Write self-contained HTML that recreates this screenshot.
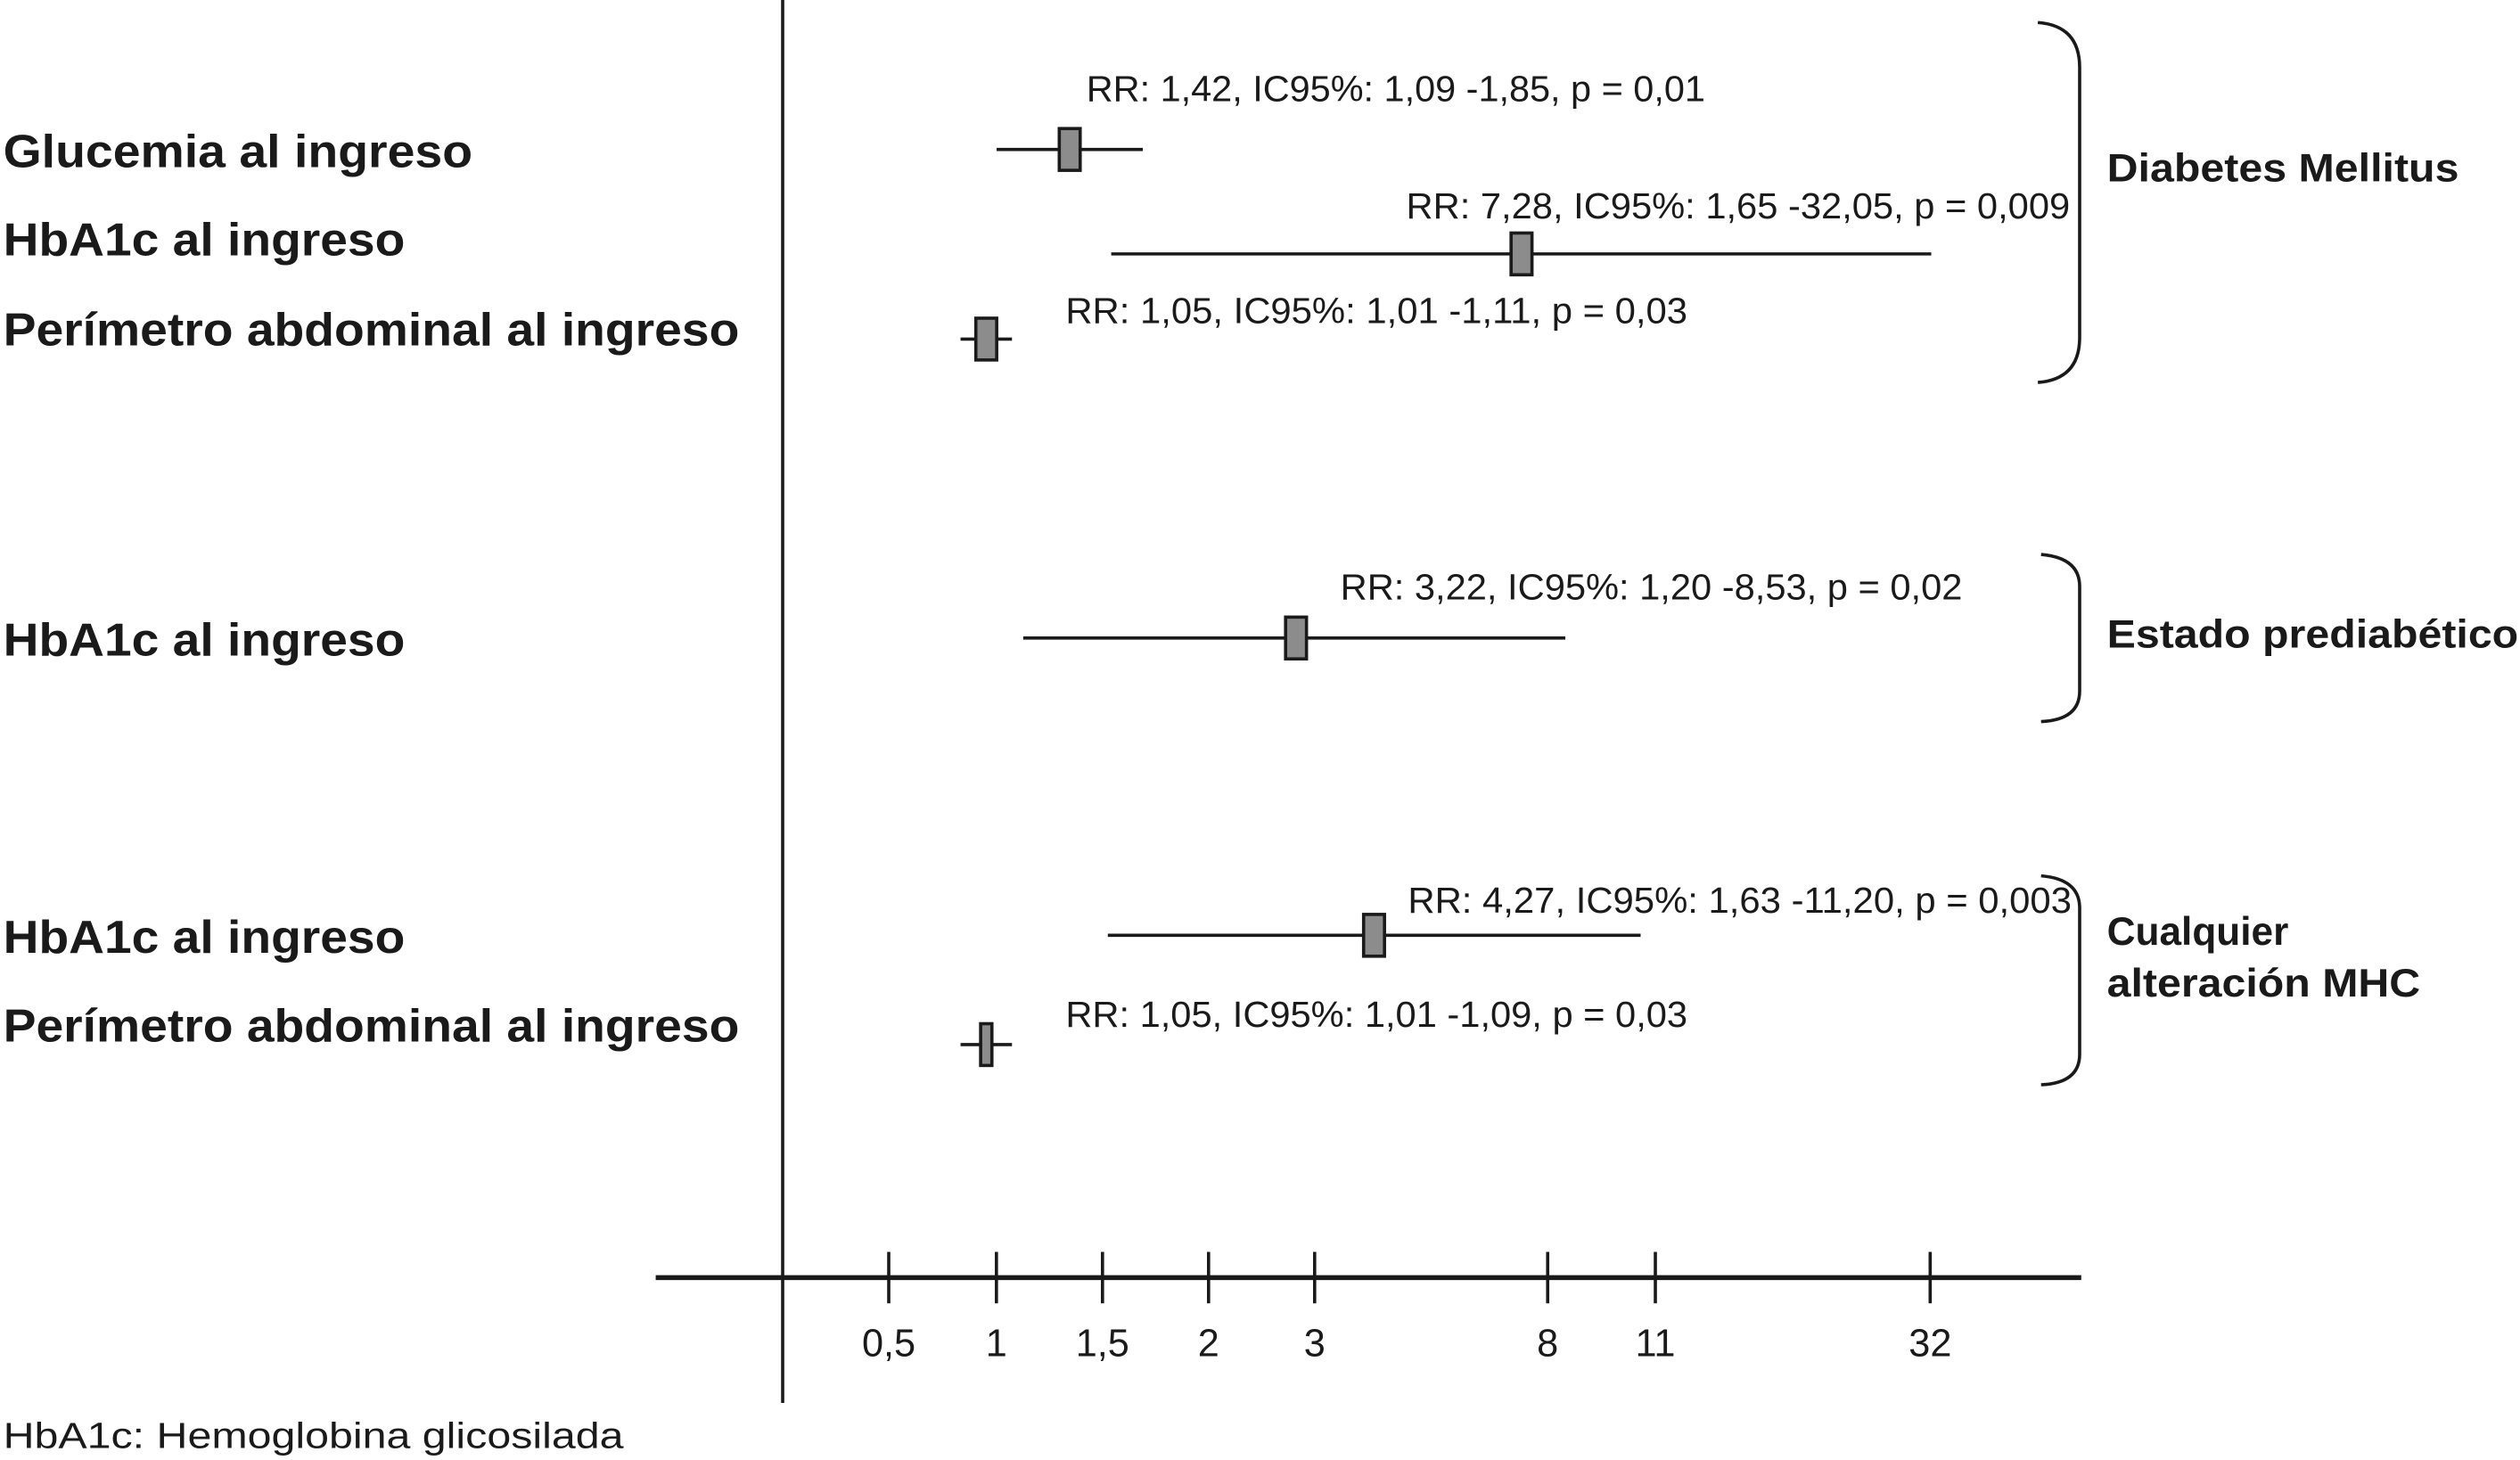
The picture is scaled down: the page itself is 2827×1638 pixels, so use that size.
<!DOCTYPE html>
<html><head><meta charset="utf-8"><style>
html,body{margin:0;padding:0;background:#fff;}
svg{display:block;}
text{font-family:"Liberation Sans",Arial,sans-serif;fill:#1a1a1a;}
.lab{font-weight:bold;font-size:29px;}
.ann{font-size:22.5px;}
.grp{font-weight:bold;font-size:24.5px;}
.tick{font-size:24px;}
</style></head><body>
<svg id="chart" width="2827" height="1638" viewBox="0 0 1568 908.5" preserveAspectRatio="none" xmlns="http://www.w3.org/2000/svg">
<g id="axes">
<line x1="487" y1="0" x2="487" y2="873" stroke="#1a1a1a" stroke-width="2"/>
<line x1="408" y1="795" x2="1295" y2="795" stroke="#1a1a1a" stroke-width="3"/>
</g>
<g id="ticks"></g>
<g id="rows"></g>
<g id="groups">
<path d="M1268,14 Q1294,16 1294,42 L1294,210 Q1294,236 1268,238" fill="none" stroke="#1a1a1a" stroke-width="2"/>
<path d="M1270,345 Q1294,347 1294,365 L1294,430 Q1294,448 1270,449" fill="none" stroke="#1a1a1a" stroke-width="2"/>
<path d="M1270,545 Q1294,547 1294,565 L1294,656 Q1294,674 1270,675" fill="none" stroke="#1a1a1a" stroke-width="2"/>
<text class="grp" x="1311" y="113" textLength="219" lengthAdjust="spacingAndGlyphs">Diabetes Mellitus</text>
<text class="grp" x="1311" y="403" textLength="256" lengthAdjust="spacingAndGlyphs">Estado prediabético</text>
<text class="grp" x="1311" y="588">Cualquier</text>
<text class="grp" x="1311" y="620" textLength="195" lengthAdjust="spacingAndGlyphs">alteración MHC</text>
</g>
<text class="ann" x="2" y="901" textLength="386" lengthAdjust="spacingAndGlyphs">HbA1c: Hemoglobina glicosilada</text>
</svg>
<script>
const tickValues=[0.5,1,1.5,2,3,8,11,32];
const tickLabels=["0,5","1","1,5","2","3","8","11","32"];
const rowLabels=["Glucemia al ingreso","HbA1c al ingreso","Perímetro abdominal al ingreso","HbA1c al ingreso","HbA1c al ingreso","Perímetro abdominal al ingreso"];
const rrValues=[1.42,7.28,1.05,3.22,4.27,1.05];
const ciLow=[1.09,1.65,1.01,1.20,1.63,1.01];
const ciHigh=[1.85,32.05,1.11,8.53,11.20,1.09];
const pValues=["0,01","0,009","0,03","0,02","0,003","0,03"];

// layout (not data)
const tickPx=[553,620,686,752,818,963,1030,1201];
const rowY=[93,158,211,397,582,650];
const labelY=[104,159,215,408,593,648];
const labelW=[292,250,458,250,250,458];
const annX=[676,875,663,834,876,663];
const annY=[63,136,201,373,568,639];
const annW=[385,413,387,387,413,387];

// marks drawn on a log scale fitted to the reference
function xScale(v){return 607+172*Math.log(v/1.01);}
function fmt(v){return v.toFixed(2).replace('.',',');}
const NS="http://www.w3.org/2000/svg";
function mk(tag,attrs,parent){const e=document.createElementNS(NS,tag);for(const k in attrs)e.setAttribute(k,attrs[k]);parent.appendChild(e);return e;}
const tg=document.getElementById('ticks');
tickValues.forEach((v,i)=>{
  const x=tickPx[i];
  const l=mk('line',{x1:x,y1:779,x2:x,y2:811,stroke:'#1a1a1a','stroke-width':2},tg);
  
  
  const t=mk('text',{x:x,y:844,'text-anchor':'middle','class':'tick'},tg);
  
  
  t.textContent=tickLabels[i];
});
const rg=document.getElementById('rows');
rowLabels.forEach((lab,i)=>{
  const y=rowY[i];
  const t=mk('text',{x:2,y:labelY[i],'class':'lab',textLength:labelW[i],lengthAdjust:'spacingAndGlyphs'},rg);
  
  
  t.textContent=lab;
  const xm=xScale(rrValues[i]);
  const x1=Math.min(xScale(ciLow[i]),xm-16);
  const x2=Math.max(xScale(ciHigh[i]),xm+16);
  const l=mk('line',{x1:x1,y1:y,x2:x2,y2:y,stroke:'#1a1a1a','stroke-width':2},rg);
  
  
  const w=(i===5)?7:13;
  const r=mk('rect',{x:xm-w/2,y:y-13,width:w,height:26,fill:'#8c8c8c',stroke:'#1a1a1a','stroke-width':2},rg);
  
  
  const a=mk('text',{x:annX[i],y:annY[i],'class':'ann',textLength:annW[i],lengthAdjust:'spacingAndGlyphs'},rg);
  
  
  a.textContent='RR: '+fmt(rrValues[i])+', IC95%: '+fmt(ciLow[i])+' -'+fmt(ciHigh[i])+', p = '+pValues[i];
});
</script>
</body></html>
